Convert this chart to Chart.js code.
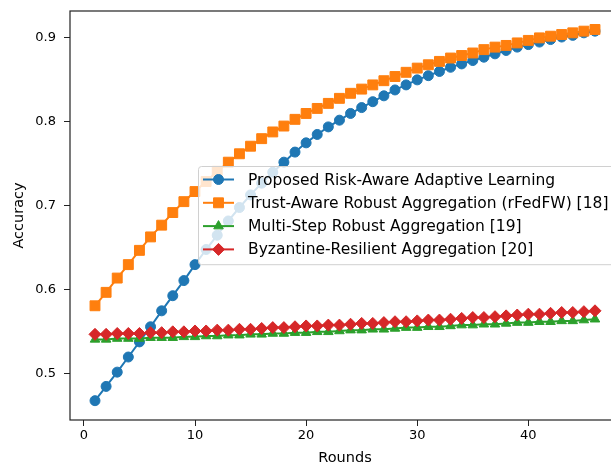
<!DOCTYPE html>
<html>
<head>
<meta charset="utf-8">
<script src="https://cdn.jsdelivr.net/npm/chart.js@4.4.0/dist/chart.umd.min.js"></script>
<style>
  html, body { margin: 0; padding: 0; overflow: hidden; background: #fff; }
  #wrap { width: 611px; height: 468px; overflow: hidden; }
</style>
</head>
<body>
<div id="wrap"><canvas id="accChart" width="640" height="468"></canvas></div>
<script>
// Rondas de entrenamiento (eje x)
const rounds = [1, 2, 3, 4, 5, 6, 7, 8, 9, 10, 11, 12, 13, 14, 15, 16, 17, 18, 19, 20,
  21, 22, 23, 24, 25, 26, 27, 28, 29, 30, 31, 32, 33, 34, 35, 36, 37, 38, 39, 40,
  41, 42, 43, 44, 45, 46];

// Precisión de cada método
const proposed = [0.468, 0.485, 0.502, 0.520, 0.538, 0.556, 0.575, 0.593, 0.611, 0.630,
  0.648, 0.665, 0.682, 0.698, 0.713, 0.727, 0.740, 0.752, 0.764, 0.775,
  0.785, 0.794, 0.802, 0.810, 0.817, 0.824, 0.831, 0.838, 0.844, 0.850,
  0.855, 0.860, 0.865, 0.869, 0.873, 0.877, 0.881, 0.885, 0.889, 0.892,
  0.895, 0.898, 0.901, 0.903, 0.906, 0.908];
const trustAware = [0.581, 0.597, 0.614, 0.630, 0.647, 0.663, 0.677, 0.692, 0.705, 0.717,
  0.729, 0.741, 0.752, 0.762, 0.771, 0.780, 0.788, 0.795, 0.803, 0.810,
  0.816, 0.822, 0.828, 0.834, 0.839, 0.844, 0.849, 0.854, 0.859, 0.864,
  0.868, 0.872, 0.876, 0.879, 0.882, 0.886, 0.889, 0.891, 0.894, 0.897,
  0.900, 0.902, 0.904, 0.906, 0.908, 0.910];
const multiStep = [0.541, 0.541, 0.542, 0.542, 0.542, 0.543, 0.543, 0.543, 0.544, 0.544,
  0.545, 0.545, 0.546, 0.546, 0.547, 0.547, 0.548, 0.548, 0.549, 0.549,
  0.550, 0.550, 0.551, 0.552, 0.552, 0.553, 0.553, 0.554, 0.555, 0.555,
  0.556, 0.556, 0.557, 0.558, 0.558, 0.559, 0.559, 0.560, 0.561, 0.561,
  0.562, 0.562, 0.563, 0.563, 0.564, 0.565];
const byzantine = [0.547, 0.547, 0.548, 0.548, 0.548, 0.549, 0.549, 0.550, 0.550, 0.551,
  0.551, 0.552, 0.552, 0.553, 0.553, 0.554, 0.555, 0.555, 0.556, 0.557,
  0.557, 0.558, 0.558, 0.559, 0.560, 0.560, 0.561, 0.562, 0.562, 0.563,
  0.564, 0.564, 0.565, 0.566, 0.567, 0.567, 0.568, 0.569, 0.570, 0.571,
  0.571, 0.572, 0.573, 0.573, 0.574, 0.575];

const xTicks = [0, 10, 20, 30, 40];
const yTicks = [0.5, 0.6, 0.7, 0.8, 0.9];

const FONT = "'DejaVu Sans', sans-serif";

function toPoints(values) {
  return values.map((v, i) => ({ x: rounds[i], y: v }));
}

// Dibuja un marcador simple para la leyenda
function drawMarker(ctx, style, r, x, y) {
  ctx.beginPath();
  if (style === 'circle') {
    ctx.arc(x, y, r, 0, Math.PI * 2);
  } else if (style === 'rect') {
    const s = Math.SQRT1_2 * r;
    ctx.rect(x - s, y - s, 2 * s, 2 * s);
  } else if (style === 'triangle') {
    ctx.moveTo(x, y - r);
    ctx.lineTo(x + r * 0.866, y + r * 0.5);
    ctx.lineTo(x - r * 0.866, y + r * 0.5);
    ctx.closePath();
  } else {
    ctx.moveTo(x, y - r);
    ctx.lineTo(x + r, y);
    ctx.lineTo(x, y + r);
    ctx.lineTo(x - r, y);
    ctx.closePath();
  }
  ctx.fill();
  ctx.stroke();
}

// Marco del área del gráfico (estilo matplotlib)
const frame = {
  id: 'frame',
  afterDatasetsDraw(chart) {
    const { ctx, chartArea: a } = chart;
    ctx.save();
    ctx.strokeStyle = '#222';
    ctx.lineWidth = 1.2;
    ctx.strokeRect(a.left, a.top, a.right - a.left, a.bottom - a.top);
    ctx.restore();
  }
};

// Leyenda dentro del área del gráfico
const innerLegend = {
  id: 'innerLegend',
  afterDraw(chart) {
    const { ctx, chartArea: a } = chart;
    const left = a.left + 128;
    const top = a.top + 155;
    const rowH = 23.3;
    const textX = left + 50;
    ctx.save();
    ctx.font = '15.5px ' + FONT;
    let maxW = 0;
    chart.data.datasets.forEach(d => { maxW = Math.max(maxW, ctx.measureText(d.label).width); });
    const w = textX - left + maxW + 8;
    const h = rowH * 4 + 5;
    ctx.beginPath();
    ctx.roundRect(left + 0.5, top + 0.5, w, h, 3);
    ctx.fillStyle = 'rgba(255,255,255,0.8)';
    ctx.fill();
    ctx.strokeStyle = '#d0d0d0';
    ctx.lineWidth = 1;
    ctx.stroke();
    chart.data.datasets.forEach((d, i) => {
      const cy = top + 13.5 + i * rowH;
      ctx.strokeStyle = d.borderColor;
      ctx.lineWidth = 2;
      ctx.beginPath();
      ctx.moveTo(left + 5, cy);
      ctx.lineTo(left + 36, cy);
      ctx.stroke();
      ctx.fillStyle = d.backgroundColor;
      ctx.lineWidth = 1;
      drawMarker(ctx, d.pointStyle, d.pointRadius, left + 20.5, cy);
      ctx.fillStyle = '#000';
      ctx.textBaseline = 'middle';
      ctx.fillText(d.label, textX, cy + 1);
    });
    ctx.restore();
  }
};

const tickFont = { family: FONT, size: 13 };
const titleFont = { family: FONT, size: 14.5 };

const ctx = document.getElementById('accChart').getContext('2d');
new Chart(ctx, {
  type: 'line',
  data: {
    datasets: [
      { label: 'Proposed Risk-Aware Adaptive Learning', data: toPoints(proposed),
        borderColor: '#1f77b4', backgroundColor: '#1f77b4', pointStyle: 'circle', pointRadius: 5, order: 4 },
      { label: 'Trust-Aware Robust Aggregation (rFedFW) [18]', data: toPoints(trustAware),
        borderColor: '#ff7f0e', backgroundColor: '#ff7f0e', pointStyle: 'rect', pointRadius: 7, order: 3 },
      { label: 'Multi-Step Robust Aggregation [19]', data: toPoints(multiStep),
        borderColor: '#2ca02c', backgroundColor: '#2ca02c', pointStyle: 'triangle', pointRadius: 5.5, order: 2 },
      { label: 'Byzantine-Resilient Aggregation [20]', data: toPoints(byzantine),
        borderColor: '#d62728', backgroundColor: '#d62728', pointStyle: 'rectRot', pointRadius: 6, order: 1 }
    ]
  },
  options: {
    responsive: false,
    animation: false,
    events: [],
    datasets: {
      line: { borderWidth: 2, tension: 0, pointBorderWidth: 1, fill: false }
    },
    layout: { padding: { top: 11, right: 20, left: 0, bottom: 0 } },
    plugins: { legend: { display: false }, tooltip: { enabled: false } },
    scales: {
      x: {
        type: 'linear',
        min: -1.25,
        max: 48.25,
        afterBuildTicks: s => { s.ticks = xTicks.map(v => ({ value: v })); },
        afterFit: s => { s.height = 48; s.paddingLeft = 0; s.paddingRight = 0; },
        border: { display: false },
        grid: { drawOnChartArea: false, drawTicks: true, tickLength: 6, tickColor: '#222' },
        ticks: { font: tickFont, color: '#000', padding: 2, maxRotation: 0 },
        title: { display: true, text: 'Rounds', font: titleFont, color: '#000', padding: { top: 0, bottom: 1 } }
      },
      y: {
        min: 0.445,
        max: 0.932,
        afterBuildTicks: s => { s.ticks = yTicks.map(v => ({ value: v })); },
        afterFit: s => { s.width = 70; s.paddingTop = 0; s.paddingBottom = 0; },
        border: { display: false },
        grid: { drawOnChartArea: false, drawTicks: true, tickLength: 6, tickColor: '#222' },
        ticks: { font: tickFont, color: '#000', padding: 8, callback: v => v.toFixed(1) },
        title: { display: true, text: 'Accuracy', font: titleFont, color: '#000', padding: { top: 11, bottom: 0 } }
      }
    }
  },
  plugins: [frame, innerLegend]
});
</script>
</body>
</html>
